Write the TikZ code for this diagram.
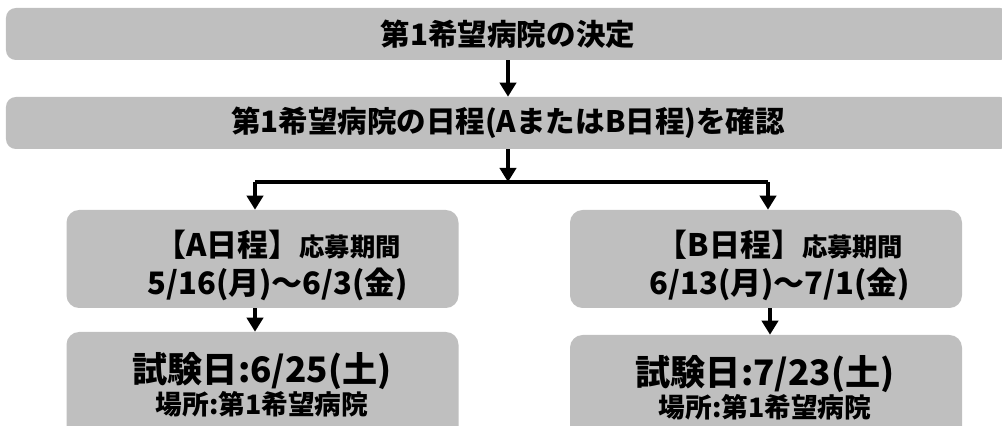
\documentclass[tikz,border=0pt]{standalone}
\usepackage{fontspec}
\newfontfamily\jpfont{Noto Sans CJK JP}
\usetikzlibrary{arrows.meta, positioning}

\definecolor{boxgray}{HTML}{BFBFBF}

\begin{document}
\begin{tikzpicture}[
    wide/.style={fill=boxgray, rounded corners=7pt, minimum width=25.1cm, minimum height=1.3cm, inner sep=0pt, font=\jpfont\bfseries\fontsize{21}{25}\selectfont},
    period/.style={fill=boxgray, rounded corners=9pt, minimum width=9.8cm, minimum height=2.45cm, inner sep=0pt},
    exam/.style={fill=boxgray, rounded corners=9pt, minimum width=9.8cm, minimum height=3cm, inner sep=0pt},
    boxtext/.style={align=center, inner sep=0pt, font=\jpfont\bfseries},
    arr/.style={-{Triangle[width=11.5pt, length=10pt]}, line width=2.5pt},
    link/.style={line width=2.5pt}
]

\useasboundingbox (0,0) rectangle (25.05,10.65);
\clip (0,0) rectangle (25.05,10.65);

% Top steps
\node[wide] (decide) at (12.7, 9.8) {第1希望病院の決定};
\node[wide] (confirm) at (12.7, 7.575) {第1希望病院の日程(AまたはB日程)を確認};

% Application periods
\node[period] (aper) at (6.5625, 4.175) {};
\node[period] (bper) at (19.15, 4.175) {};
\node[boxtext] (apertext) at (6.95, 4.02) {{\fontsize{22}{26}\selectfont 【A日程】}{\fontsize{18}{26}\selectfont 応募期間}\\[5pt]{\fontsize{22}{26}\selectfont 5/16(月)～6/3(金)}};
\node[boxtext] (bpertext) at (19.5, 4.02) {{\fontsize{22}{26}\selectfont 【B日程】}{\fontsize{18}{26}\selectfont 応募期間}\\[5pt]{\fontsize{22}{26}\selectfont 6/13(月)～7/1(金)}};

% Exam days
\node[exam] (aexam) at (6.5625, 0.85) {};
\node[exam] (bexam) at (19.15, 0.775) {};
\node[boxtext] (aexamtext) at (6.55, 1.025) {{\fontsize{25}{28}\selectfont 試験日:6/25(土)}\\[0pt]{\fontsize{19}{24}\selectfont 場所:第1希望病院}};
\node[boxtext] (bexamtext) at (19.125, 0.95) {{\fontsize{25}{28}\selectfont 試験日:7/23(土)}\\[0pt]{\fontsize{19}{24}\selectfont 場所:第1希望病院}};

% Split points
\coordinate (split) at (12.7, 6.1);
\coordinate (lft) at (6.375, 6.1);
\coordinate (rgt) at (19.2, 6.1);
\coordinate (rgtlow) at (19.25, 6.1);

% Connections
\draw[arr] (decide) -- (confirm);
\draw[arr] (confirm) -- (split);
\draw[link] (lft) -- (rgt);
\draw[arr] (lft) -- (lft |- aper.north);
\draw[arr] (rgt) -- (rgt |- bper.north);
\draw[arr] (aper.south -| lft) -- (aexam.north -| lft);
\draw[arr] (bper.south -| rgtlow) -- (bexam.north -| rgtlow);

\end{tikzpicture}
\end{document}
